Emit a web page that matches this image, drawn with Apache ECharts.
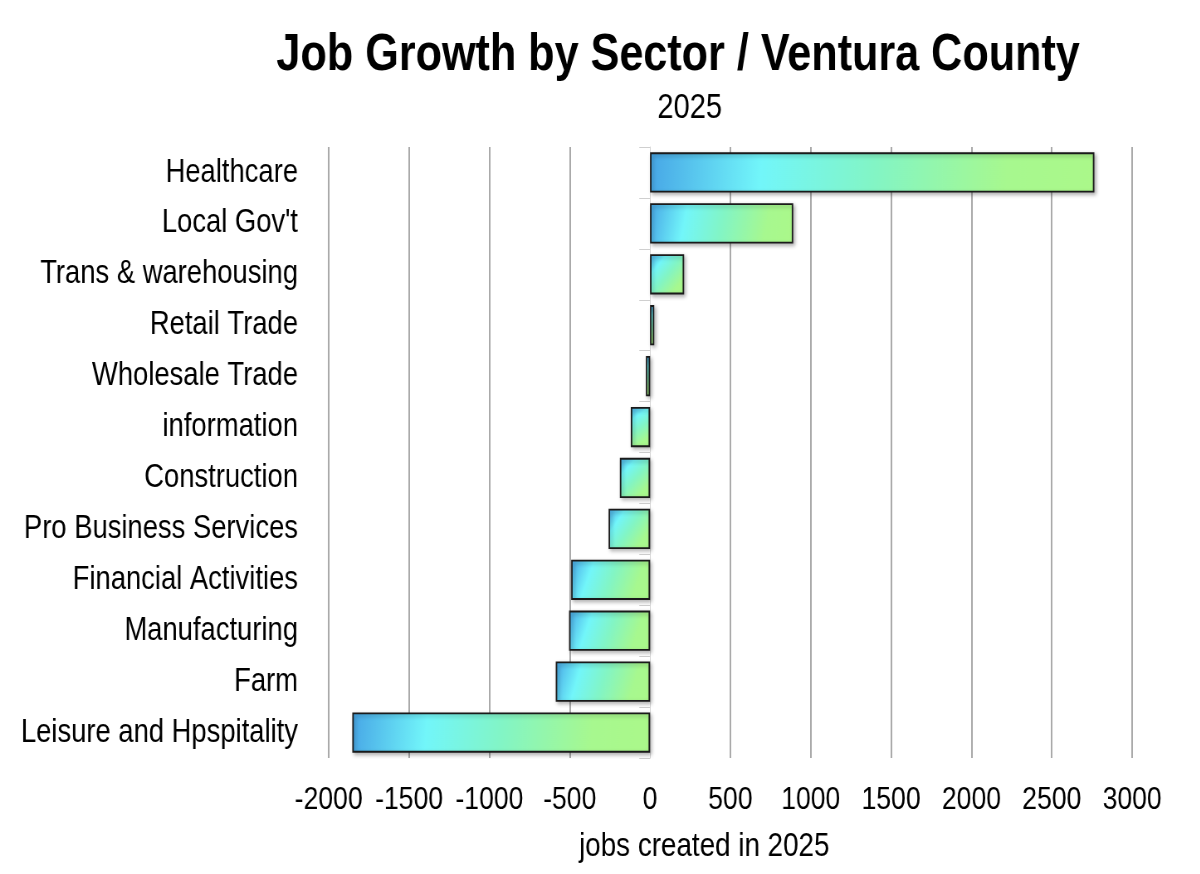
<!DOCTYPE html>
<html>
<head>
<meta charset="utf-8">
<script src="https://cdn.jsdelivr.net/npm/echarts@6/dist/echarts.min.js"></script>
<style>
html,body{margin:0;padding:0;background:#fff;overflow:hidden;width:1200px;height:874px;}
/* the reference uses a condensed Helvetica-like face: draw wider, then condense */
#chart{width:1446px;height:874px;transform:scaleX(0.83);transform-origin:0 0;}
</style>
</head>
<body>
<div id="chart"></div>
<script>
// ---- data ----
const titleText = 'Job Growth by Sector / Ventura County';
const subtitleText = '2025';
const axisTitle = 'jobs created in 2025';
const categories = [
  'Healthcare', "Local Gov't", 'Trans & warehousing', 'Retail Trade',
  'Wholesale Trade', 'information', 'Construction', 'Pro Business Services',
  'Financial Activities', 'Manufacturing', 'Farm', 'Leisure and Hpspitality'
];
const jobs = [2765, 891, 212, 26, -26, -120, -188, -258, -491, -504, -587, -1853];
const xMin = -2000, xMax = 3000, xStep = 500;

const FONT = "'Liberation Sans', Arial, sans-serif";

// category axis shown top-to-bottom
const cats = categories.slice().reverse();
const vals = jobs.slice().reverse();

// gridline colours: no gridline at zero (the light axis line sits there)
const tickVals = [];
for (let v = xMin; v <= xMax; v += xStep) tickVals.push(v);
const splitColors = tickVals.map(v => v === 0 ? 'rgba(0,0,0,0)' : '#9c9c9c');

const barGradient = {
  type: 'linear', x: 0, y: 0, x2: 1, y2: 1,
  colorStops: [
    { offset: 0, color: '#47a6e6' },
    { offset: 0.25, color: '#72f6fa' },
    { offset: 0.5, color: '#82f5c6' },
    { offset: 0.8, color: '#a7f88f' },
    { offset: 1, color: '#abf88a' }
  ]
};

const chart = echarts.init(document.getElementById('chart'));
chart.setOption({
  backgroundColor: '#ffffff',
  animation: false,
  title: [
    {
      text: titleText, left: 817, top: 30, textAlign: 'center', padding: 0,
      textStyle: { fontFamily: FONT, fontSize: 52, fontWeight: 'bold', color: '#000' }
    },
    {
      text: subtitleText, left: 831, top: 91, textAlign: 'center', padding: 0,
      textStyle: { fontFamily: FONT, fontSize: 35, fontWeight: 'normal', color: '#000' }
    }
  ],
  grid: { left: 396, right: 82, top: 147, bottom: 116, containLabel: false, outerBoundsMode: 'none' },
  xAxis: {
    type: 'value', min: xMin, max: xMax, interval: xStep,
    axisLine: { show: false }, axisTick: { show: false },
    axisLabel: {
      fontFamily: FONT, fontSize: 32, color: '#000', margin: 26,
      formatter: v => String(v), showMinLabel: true, showMaxLabel: true, hideOverlap: false
    },
    splitLine: { show: true, lineStyle: { color: splitColors, width: 1.7 } },
    name: axisTitle, nameLocation: 'middle', nameGap: 72,
    nameTextStyle: { fontFamily: FONT, fontSize: 33.5, color: '#000', padding: [0, 63, 0, 0] }
  },
  yAxis: [
    {
      type: 'category', data: cats, position: 'left',
      axisLine: { show: false, onZero: false }, axisTick: { show: false },
      axisLabel: { fontFamily: FONT, fontSize: 33, color: '#000', margin: 37 }
    },
    {
      type: 'category', data: cats, position: 'left',
      axisLine: { show: true, onZero: true, lineStyle: { color: '#d6d6d6', width: 1 } },
      axisTick: { show: true, length: 13, lineStyle: { color: '#cfcfcf', width: 1 } },
      axisLabel: { show: false }, splitLine: { show: false }
    }
  ],
  series: [{
    type: 'bar', yAxisIndex: 0, data: vals, barCategoryGap: '21%',
    itemStyle: {
      color: barGradient, borderColor: '#1a1a1a', borderWidth: 1.8,
      shadowBlur: 4, shadowOffsetX: 2, shadowOffsetY: 2, shadowColor: 'rgba(0,0,0,0.28)'
    }
  }]
});
</script>
</body>
</html>
